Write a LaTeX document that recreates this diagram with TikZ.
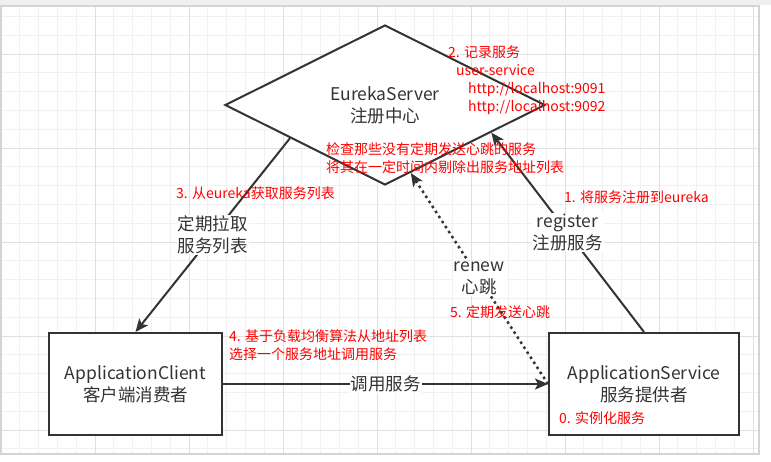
\documentclass[tikz,border=0pt]{standalone}
\usepackage{fontspec}
\setmainfont{Noto Sans CJK SC}
\usetikzlibrary{calc,shapes.geometric,arrows.meta}
\definecolor{linegray}{HTML}{333333}
\definecolor{gridminor}{HTML}{F1F1F1}
\definecolor{gridmajor}{HTML}{E0E0E0}
\definecolor{framegray}{HTML}{D4D4D4}
\tikzset{
    box/.style={draw=linegray,line width=2pt,fill=white,minimum width=#1,minimum height=102pt,inner sep=0pt,align=center,text=linegray,font=\fontsize{17.5}{22}\selectfont},
    conn/.style={draw=linegray,line width=2pt,-{Stealth[length=13pt,width=11pt,inset=3pt]}},
    beatline/.style={conn,line width=2.5pt,dash pattern=on 2.5pt off 3.5pt},
    lbl/.style={fill=white,inner sep=1pt,align=center,text=linegray,font=\fontsize{17.5}{22}\selectfont},
    note/.style={text=red,inner sep=0pt,anchor=west,align=left,font=\fontsize{14}{18}\selectfont},
  }
\begin{document}
\begin{tikzpicture}[x=1pt,y=-1pt]
				  \useasboundingbox (0,0) rectangle (771,461);
				  %BACKGROUND
				  \fill[gray!12] (0,0) rectangle (771,5);
				  \begin{scope}
				  \clip (1,6) rectangle (759,454);
				  \foreach \k in {0,...,40} \draw[gridminor,line width=1pt] ({1+18.8*\k},6) -- ({1+18.8*\k},454);
				  \foreach \k in {0,...,23} \draw[gridminor,line width=1pt] (1,{16.4+18.8*\k}) -- (759,{16.4+18.8*\k});
				  \foreach \k in {0,5,...,40} \draw[gridmajor,line width=1pt] ({1+18.8*\k},6) -- ({1+18.8*\k},454);
				  \foreach \k in {2,7,...,22} \draw[gridmajor,line width=1pt] (1,{16.4+18.8*\k}) -- (759,{16.4+18.8*\k});
				  \end{scope}
				  \draw[framegray,line width=1.2pt] (1,6) rectangle (759,454);
				  %DIAMOND
				  \node[diamond,draw=linegray,line width=2pt,fill=white,minimum width=320pt,minimum height=160pt,inner sep=0pt,align=center,text=linegray,font=\fontsize{17.5}{22}\selectfont] (eureka) at (385,105) {EurekaServer\\注册中心};
				  %BOXES
				  \node[box=173pt] (client) at (135.5,384) {ApplicationClient\\客户端消费者};
				  \node[box=190pt] (service) at (644,384) {ApplicationService\\服务提供者};
				  %POINTS ON THE DIAMOND
				  \coordinate (pull) at ($(eureka.west)!0.41!(eureka.south)$);
				  \coordinate (reg) at ($(eureka.south)!0.66!(eureka.east)$);
				  \coordinate (beat) at ($(eureka.south)!0.16!(eureka.east)$);
				  %CONNECTORS
				  \draw[conn] (pull) -- node[lbl]{定期拉取\\服务列表} (client.north);
				  \draw[conn] (service.north) -- node[lbl]{register\\注册服务} (reg);
				  \draw[beatline] (service.west) -- node[lbl]{renew\\心跳} (beat);
				  \draw[conn] (client.east) -- node[lbl]{调用服务} (service.west);
				  %NOTES
				  \node[note] (n2) at (448,80) {2. 记录服务\\\hspace*{8pt}user-service\\\hspace*{20pt}http://localhost:9091\\\hspace*{20pt}http://localhost:9092};
				  \node[note] (ncheck) at (326,158) {检查那些没有定期发送心跳的服务\\将其在一定时间内剔除出服务地址列表};
				  \node[note] (n3) at (176,193) {3. 从eureka获取服务列表};
				  \node[note] (n1) at (564,197) {1. 将服务注册到eureka};
				  \node[note] (n5) at (450,312) {5. 定期发送心跳};
				  \node[note] (n4) at (229,345) {4. 基于负载均衡算法从地址列表\\选择一个服务地址调用服务};
				  \node[note] (n0) at (559,418) {0. 实例化服务};
\end{tikzpicture}
\end{document}
